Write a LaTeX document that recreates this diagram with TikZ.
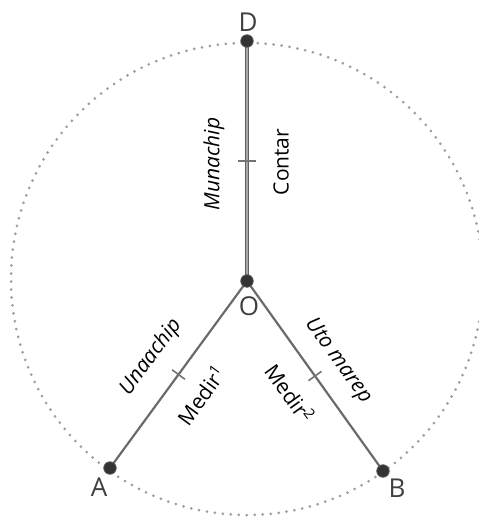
\documentclass[tikz,border=0pt]{standalone}
\usepackage{fontspec}
\setmainfont{Open Sans}
\usetikzlibrary{calc}
\tikzset{
  circ/.style={draw=black!38, line width=3pt, line cap=round, dash pattern=on 0pt off 8pt},
  seg/.style={draw=black!58, line width=2.2pt},
  segd/.style={draw=black!62, line width=1pt, double=black!35, double distance=1.3pt},
  tickmark/.style={draw=black!55, line width=1.6pt},
  ptdot/.style={circle, fill=black!80, draw=black!65, line width=0.8pt, minimum size=12.5pt, inner sep=0pt},
  lab/.style={font=\fontsize{21}{24}\selectfont, text=black, inner sep=0pt},
  plab/.style={font=\fontsize{26}{30}\selectfont, text=black!75, inner sep=0pt}
}
\begin{document}
\begin{tikzpicture}[x=1pt,y=-1pt]
\useasboundingbox (0,0) rectangle (479,517);
\coordinate (C) at (247,279);
\draw[circ] (C) circle[radius=236pt];
\coordinate (O) at (247,281);
\coordinate (D) at (247,41);
\coordinate (A) at (110,468);
\coordinate (B) at (383,471);
\draw[segd] (O) -- (D);
\draw[seg] (O) -- (A);
\draw[seg] (O) -- (B);
% ticks
\coordinate (mD) at ($(O)!0.5!(D)$);
\coordinate (mA) at ($(O)!0.5!(A)$);
\coordinate (mB) at ($(O)!0.5!(B)$);
\draw[tickmark] ($(mD)!9pt!90:(D)$) -- ($(mD)!9pt!-90:(D)$);
\draw[tickmark] ($(mA)!8pt!90:(A)$) -- ($(mA)!8pt!-90:(A)$);
\draw[tickmark] ($(mB)!8pt!90:(B)$) -- ($(mB)!8pt!-90:(B)$);
% dots
\node[ptdot] (nO) at (O) {};
\node[ptdot] (nD) at (D) {};
\node[ptdot] (nA) at (A) {};
\node[ptdot] (nB) at (B) {};
% point labels
\node[plab] (lD) at (248,22) {D};
\node[plab] (lO) at (249,306) {O};
\node[plab] (lA) at (99,487) {A};
\node[plab] (lB) at (397,488) {B};
% segment labels
\node[lab, rotate=90] (t1) at (214,164) {\itshape Munachip};
\node[lab, rotate=90] (t2) at (281,162) {Contar};
\node[lab, rotate=53.8] (t3) at (151,357) {\itshape Unaachip};
\node[lab, rotate=53.8] (t4) at (201,395) {Medir\textsuperscript{1}};
\node[lab, rotate=-54.4] (t5) at (338,361) {\itshape Uto marep};
\node[lab, rotate=-54.4] (t6) at (290,393) {Medir\textsuperscript{2}};
\end{tikzpicture}
\end{document}
